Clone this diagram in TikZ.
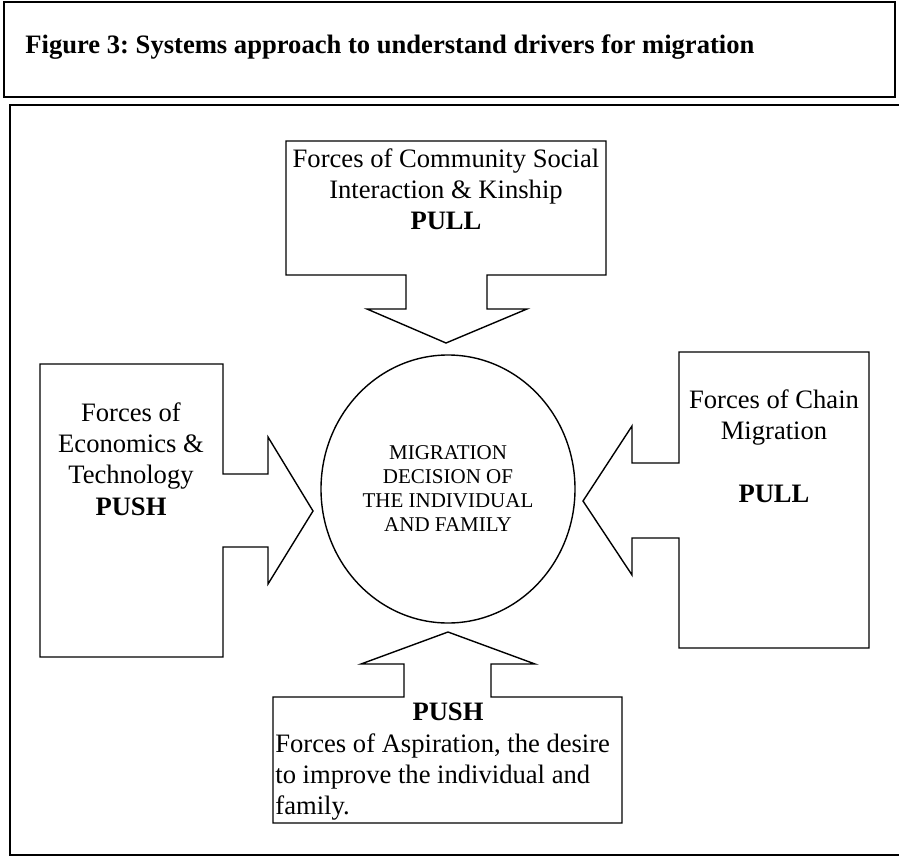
\documentclass[tikz,border=0pt]{standalone}
\usepackage{fontspec}
\setmainfont{Liberation Serif}
\usetikzlibrary{shapes.geometric}
\frenchspacing

\begin{document}
\begin{tikzpicture}[x=0.5pt, y=-0.5pt,
    outline/.style={line width=0.7pt, line join=miter},
    frame/.style={line width=1pt},
    label/.style={font=\fontsize{13.3}{15.6}\selectfont, align=center, inner sep=0pt}]
  \useasboundingbox (0,0) rectangle (899,856);
  \clip (0,0) rectangle (899,856);

  % caption frame
  \draw[frame] (4,2) rectangle (895,97);
  \node[label, anchor=base west, font=\fontsize{13.3}{15.6}\selectfont\bfseries] (caption) at (25,54)
    {Figure 3: Systems approach to understand drivers for migration};

  % outer frame, cut off at the right edge
  \draw[frame] (905,105) -- (10,105) -- (10,855) -- (905,855);

  % decision in the middle
  \node[ellipse, draw, outline, minimum width=127pt, minimum height=134pt, inner sep=0pt,
        font=\fontsize{10.5}{12}\selectfont, align=center] (decision) at (448,489)
    {MIGRATION\\DECISION OF\\THE INDIVIDUAL\\AND FAMILY};

  % top callout, arrow down
  \draw[outline] (286,141) -- (606,141) -- (606,275) -- (487,275) -- (487,309) -- (527,309)
    -- (446,343) -- (367,309) -- (406,309) -- (406,275) -- (286,275) -- cycle;
  \node[label] (community) at (446,189)
    {Forces of Community Social\\Interaction \& Kinship\\\textbf{PULL}};

  % left callout, arrow right
  \draw[outline] (40,364) -- (223,364) -- (223,474) -- (268,474) -- (268,437) -- (313,511)
    -- (268,584) -- (268,547) -- (223,547) -- (223,657) -- (40,657) -- cycle;
  \node[label] (economics) at (131,459)
    {Forces of\\Economics \&\\Technology\\\textbf{PUSH}};

  % right callout, arrow left
  \draw[outline] (679,352) -- (869,352) -- (869,648) -- (679,648) -- (679,538) -- (632,538)
    -- (632,575) -- (583,501) -- (632,426) -- (632,463) -- (679,463) -- cycle;
  \node[label] (chain) at (774,446)
    {Forces of Chain\\Migration\\[15.6pt]\textbf{PULL}};

  % bottom callout, arrow up
  \draw[outline] (273,697) -- (404,697) -- (404,664) -- (361,664) -- (448,632) -- (535,664)
    -- (491,664) -- (491,697) -- (622,697) -- (622,823) -- (273,823) -- cycle;
  \node[label, anchor=base] (aspirationpush) at (448,720) {\textbf{PUSH}};
  \node[label, align=left, anchor=north west] (aspiration) at (275,733)
    {Forces of Aspiration, the desire\\to improve the individual and\\family.};
\end{tikzpicture}
\end{document}
